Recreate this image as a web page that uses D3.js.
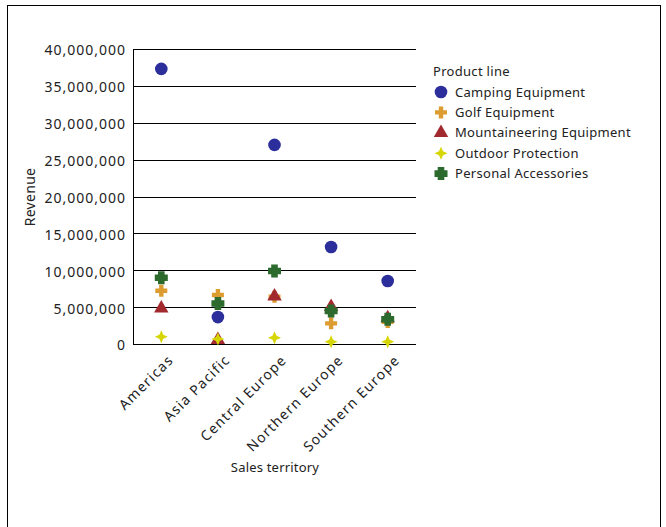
<!DOCTYPE html>
<html>
<head>
<meta charset="utf-8">
<script src="https://cdn.jsdelivr.net/npm/d3@7"></script>
<style>
	body { margin: 0; background: #fff; }
	svg { display: block; font-family: 'Noto Sans', sans-serif; }
</style>
</head>
<body>
<svg id="chart" width="666" height="527"></svg>
<script>
const territories = ['Americas', 'Asia Pacific', 'Central Europe', 'Northern Europe', 'Southern Europe'];
const productLines = ['Camping Equipment', 'Golf Equipment', 'Mountaineering Equipment', 'Outdoor Protection', 'Personal Accessories'];
const camping = [37300000, 3650000, 27000000, 13150000, 8550000];
const golf = [7230000, 6650000, 6400000, 2800000, 3000000];
const mountaineering = [4850000, 550000, 6450000, 5050000, 3500000];
const outdoor = [990000, 680000, 860000, 300000, 300000];
const personal = [8990000, 5500000, 9900000, 4470000, 3350000];
const yTicks = [0, 5000000, 10000000, 15000000, 20000000, 25000000, 30000000, 35000000, 40000000];

const seriesValues = [camping, golf, mountaineering, outdoor, personal];
const colors = ['#2c2f9b', '#dd9c30', '#a2292e', '#d6d604', '#2d6a2e'];

// plus sign with a given half width and arm half thickness
function cross(r, t) {
	return {
		draw(ctx) {
			ctx.moveTo(-t, -r);
			ctx.lineTo(t, -r);
			ctx.lineTo(t, -t);
			ctx.lineTo(r, -t);
			ctx.lineTo(r, t);
			ctx.lineTo(t, t);
			ctx.lineTo(t, r);
			ctx.lineTo(-t, r);
			ctx.lineTo(-t, t);
			ctx.lineTo(-r, t);
			ctx.lineTo(-r, -t);
			ctx.lineTo(-t, -t);
			ctx.closePath();
		}
	};
}

// 4-point star for Outdoor Protection
const star4 = {
	draw(ctx) {
		const r = 6.5;
		const i = 2;
		ctx.moveTo(0, -r);
		ctx.lineTo(i, -i);
		ctx.lineTo(r, 0);
		ctx.lineTo(i, i);
		ctx.lineTo(0, r);
		ctx.lineTo(-i, i);
		ctx.lineTo(-r, 0);
		ctx.lineTo(-i, -i);
		ctx.closePath();
	}
};

const symbols = [
	d3.symbol(d3.symbolCircle, 125),
	d3.symbol(cross(6, 2.2)),
	d3.symbol(d3.symbolTriangle, 90),
	d3.symbol(star4),
	d3.symbol(cross(6.5, 3.3))
];

const $svg = d3.select('#chart');

// outer frame
$svg.append('rect')
	.attr('x', 7.5).attr('y', 5.5)
	.attr('width', 653).attr('height', 530)
	.attr('fill', 'none').attr('stroke', '#000');

const margin = { left: 133, top: 49, right: 416, bottom: 344 };

const x = d3.scaleBand()
	.domain(territories)
	.range([margin.left, margin.right]);

const y = d3.scaleLinear()
	.domain([0, 40000000])
	.range([margin.bottom, margin.top]);

const fmt = d3.format(',');

// gridlines
$svg.append('g')
	.selectAll('line')
	.data(yTicks)
	.join('line')
	.attr('x1', margin.left)
	.attr('x2', margin.right)
	.attr('y1', d => Math.round(y(d)) + 0.5)
	.attr('y2', d => Math.round(y(d)) + 0.5)
	.attr('stroke', '#000');

// y axis line
$svg.append('line')
	.attr('x1', margin.left + 0.5).attr('x2', margin.left + 0.5)
	.attr('y1', margin.top).attr('y2', margin.bottom + 1)
	.attr('stroke', '#000');

// y tick labels
$svg.append('g')
	.selectAll('text')
	.data(yTicks)
	.join('text')
	.attr('x', margin.left - 7)
	.attr('y', d => y(d) + 1.5)
	.attr('dy', '0.35em')
	.attr('text-anchor', 'end')
	.attr('font-size', 14)
	.attr('letter-spacing', 1)
	.attr('fill', '#222')
	.text(d => fmt(d));

// x tick labels
$svg.append('g')
	.selectAll('text')
	.data(territories)
	.join('text')
	.attr('transform', d => `translate(${x(d) + x.bandwidth() / 2 + 13},${margin.bottom + 17}) rotate(-45)`)
	.attr('text-anchor', 'end')
	.attr('font-size', 14)
	.attr('letter-spacing', 1.2)
	.attr('fill', '#222')
	.text(d => d);

// axis titles
$svg.append('text')
	.attr('transform', `translate(35,197) rotate(-90)`)
	.attr('text-anchor', 'middle')
	.attr('font-size', 14)
	.attr('letter-spacing', 0.3)
	.attr('fill', '#222')
	.text('Revenue');

$svg.append('text')
	.attr('x', 275)
	.attr('y', 472)
	.attr('text-anchor', 'middle')
	.attr('font-size', 13)
	.attr('letter-spacing', 0.2)
	.attr('fill', '#222')
	.text('Sales territory');

// points
productLines.forEach((p, i) => {
	$svg.append('g')
		.selectAll('path')
		.data(seriesValues[i])
		.join('path')
		.attr('transform', (d, j) => `translate(${x(territories[j]) + x.bandwidth() / 2},${y(d)})`)
		.attr('d', symbols[i])
		.attr('fill', colors[i]);
});

// legend
const $legend = $svg.append('g').attr('transform', 'translate(433,71)');
$legend.append('text')
	.attr('x', 0).attr('y', 0)
	.attr('dy', '0.35em')
	.attr('font-size', 13)
	.attr('letter-spacing', 0.3)
	.attr('fill', '#222')
	.text('Product line');

const $items = $legend.selectAll('.item')
	.data(productLines)
	.join('g')
	.attr('class', 'item')
	.attr('transform', (d, i) => `translate(0,${21 + i * 20.4})`);

$items.append('path')
	.attr('transform', 'translate(8,0)')
	.attr('d', (d, i) => symbols[i]())
	.attr('fill', (d, i) => colors[i]);

$items.append('text')
	.attr('x', 22)
	.attr('dy', '0.35em')
	.attr('font-size', 13)
	.attr('letter-spacing', 0.3)
	.attr('fill', '#222')
	.text(d => d);
</script>
</body>
</html>
